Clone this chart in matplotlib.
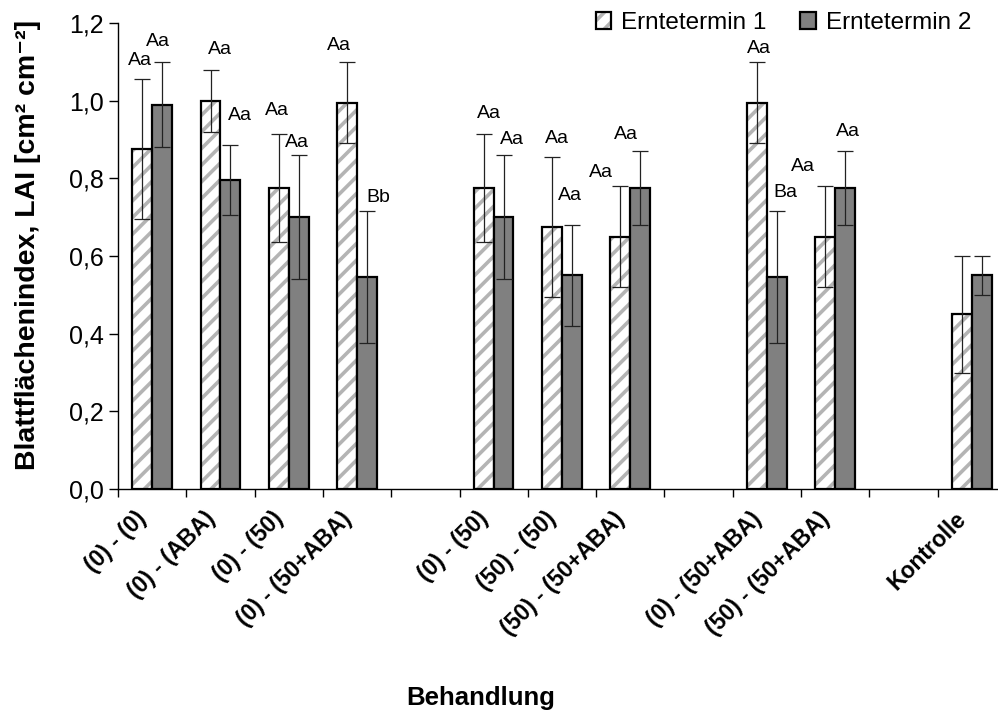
import numpy as np
import matplotlib.pyplot as plt
import matplotlib.transforms as mtransforms
from matplotlib.ticker import FixedLocator, FuncFormatter

plt.rcParams['font.family'] = ['Liberation Sans', 'DejaVu Sans']
plt.rcParams['hatch.linewidth'] = 2.6

# treatments (empty strings are spacer slots between groups)
categories = ["(0) - (0)", "(0) - (ABA)", "(0) - (50)", "(0) - (50+ABA)", "",
              "(0) - (50)", "(50) - (50)", "(50) - (50+ABA)", "",
              "(0) - (50+ABA)", "(50) - (50+ABA)", "", "Kontrolle"]

nan = np.nan
termin1 = [0.875, 1.0, 0.775, 0.995, nan, 0.775, 0.675, 0.65, nan, 0.995, 0.65, nan, 0.45]
termin1_err = [0.18, 0.08, 0.14, 0.105, nan, 0.14, 0.18, 0.13, nan, 0.105, 0.13, nan, 0.15]
termin2 = [0.99, 0.795, 0.70, 0.545, nan, 0.70, 0.55, 0.775, nan, 0.545, 0.775, nan, 0.55]
termin2_err = [0.11, 0.09, 0.16, 0.17, nan, 0.16, 0.13, 0.095, nan, 0.17, 0.095, nan, 0.05]

# significance letters
letters1 = ["Aa", "Aa", "Aa", "Aa", "", "Aa", "Aa", "Aa", "", "Aa", "Aa", "", ""]
letters2 = ["Aa", "Aa", "Aa", "Bb", "", "Aa", "Aa", "Aa", "", "Ba", "Aa", "", ""]

# hand placement of the letters (pixels, relative to top of error bar)
nudge1 = [(-2, 19), (9, 20), (-2, 23), (-8, 16), None, (5, 20), (5, 19), (-19, 14), None,
          (2, 13), (-22, 20), None, None]
nudge2 = [(-4, 20), (10, 30), (-2, 13), (11, 14), None, (8, 16), (-2, 29), (-14, 17), None,
          (9, 19), (3, 20), None, None]

fig = plt.figure(figsize=(9.98, 7.16), dpi=100)
ax = fig.add_axes([0.1182, 0.317, 0.8898, 0.6508])

x = np.arange(len(categories))
t1 = np.array(termin1)
t2 = np.array(termin2)
e1 = np.array(termin1_err)
e2 = np.array(termin2_err)
m = ~np.isnan(t1)
w = 0.29

err_kw = dict(ecolor='#222222', elinewidth=0.9, capsize=5.5, capthick=0.9)

# hatched bars: grey stripes first, black outline on top
hatch_bars = ax.bar(x[m] - w / 2, t1[m], w, color='white', edgecolor='#b4b4b4',
                    linewidth=0, hatch='//', zorder=2)
outline_bars = ax.bar(x[m] - w / 2, t1[m], w, yerr=e1[m], fill=False, edgecolor='black',
                      linewidth=1.6, error_kw=err_kw, zorder=2)
dark_bars = ax.bar(x[m] + w / 2, t2[m], w, yerr=e2[m], color='#808080', edgecolor='black',
                   linewidth=1.6, error_kw=err_kw, zorder=2)

for i in x[m]:
    for vals, errs, labs, nud, sh in ((t1, e1, letters1, nudge1, -w / 2),
                                      (t2, e2, letters2, nudge2, w / 2)):
        if labs[i]:
            dx, dy = nud[i]
            ax.annotate(labs[i], (i + sh, vals[i] + errs[i]),
                        xytext=(dx * 0.72, dy * 0.72), textcoords='offset points',
                        ha='center', va='center', fontsize=14)

ax.set_xlim(-0.5, len(categories) - 0.5)
ax.set_ylim(0, 1.2)
ax.set_yticks(np.arange(0, 1.21, 0.2))
ax.yaxis.set_major_formatter(FuncFormatter(lambda v, p: f"{v:.1f}".replace('.', ',')))
ax.tick_params(axis='y', direction='out', length=6.5, width=1, labelsize=18, pad=4)

ax.set_xticks(x)
ax.set_xticklabels(categories, rotation=45, ha='right', va='center',
                   rotation_mode='anchor', fontsize=16.5, fontweight='bold')
ax.tick_params(axis='x', which='major', length=0, pad=19)
shift = mtransforms.ScaledTranslation(-9 / 100, 0, fig.dpi_scale_trans)
for lab in ax.get_xticklabels():
    lab.set_transform(lab.get_transform() + shift)
ax.xaxis.set_minor_locator(FixedLocator(np.arange(-0.5, len(categories), 1.0)))
ax.tick_params(axis='x', which='minor', direction='out', length=6, width=1)

for s in ('top', 'right'):
    ax.spines[s].set_visible(False)
for s in ('left', 'bottom'):
    ax.spines[s].set_linewidth(1.0)

ax.set_ylabel("Blattflächenindex, LAI [cm² cm⁻²]", fontsize=20.5, fontweight='bold')
ax.yaxis.set_label_coords(-0.087, 0.524)
fig.text(481 / 998, 1 - 698 / 716, "Behandlung", ha='center', va='center',
         fontsize=18.5, fontweight='bold')

fig.legend([(hatch_bars[0], outline_bars[0]), dark_bars[0]],
           ['Erntetermin 1', 'Erntetermin 2'],
           loc='center left', bbox_to_anchor=(0.587, 1 - 23 / 716), ncol=2, frameon=False,
           fontsize=17.5, handlelength=0.65, handleheight=0.65, handletextpad=0.4,
           columnspacing=1.4, borderaxespad=0)

fig.savefig('out.png', dpi=100)
